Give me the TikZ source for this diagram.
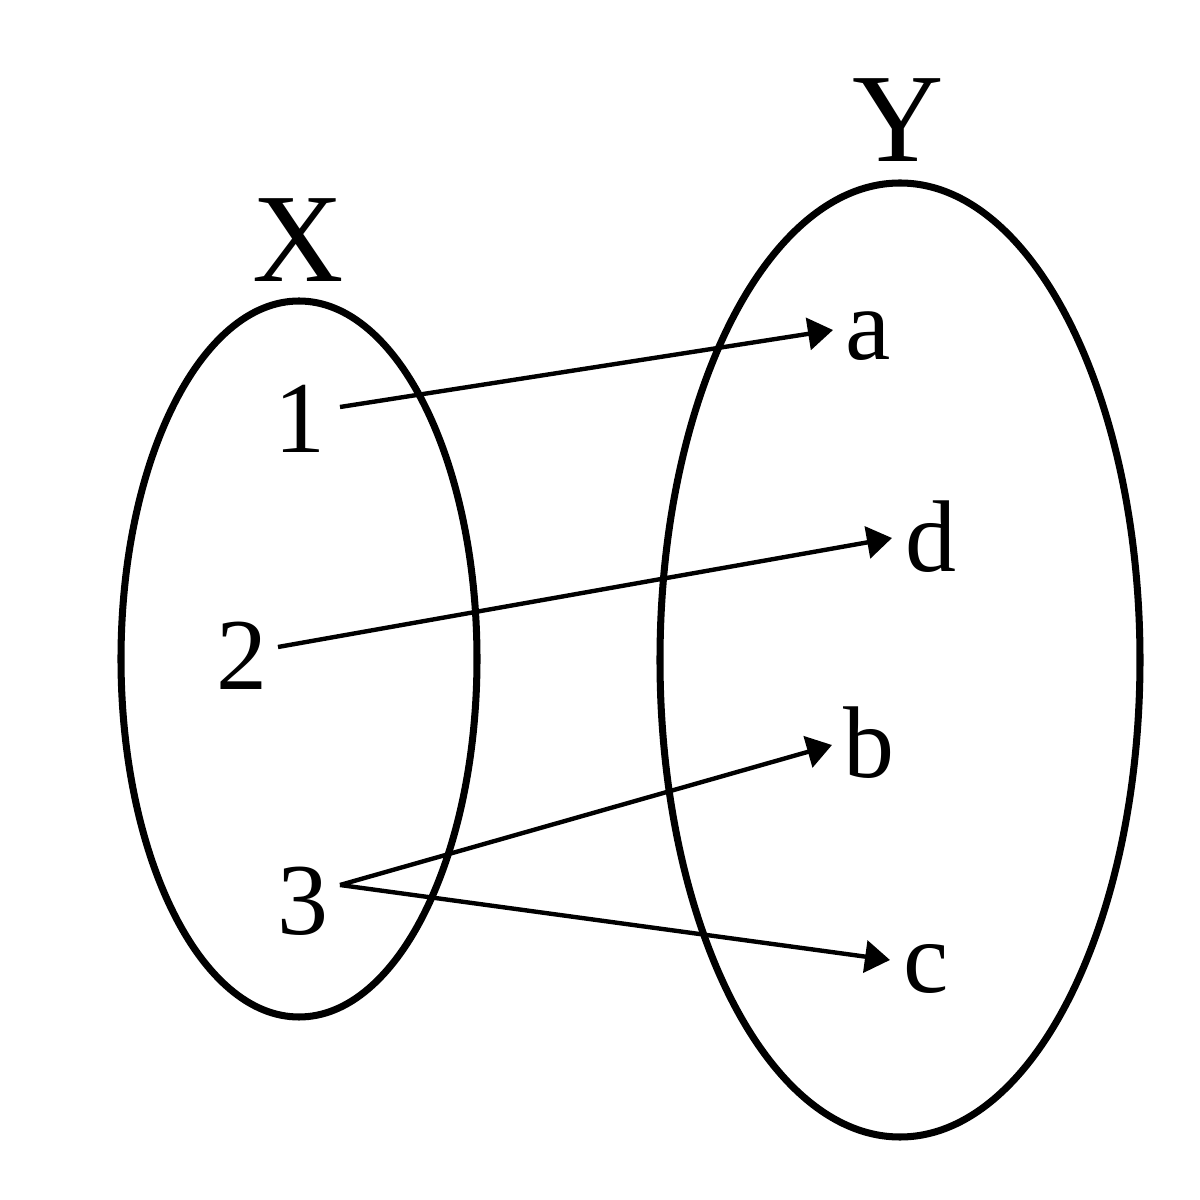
\documentclass[tikz,border=0pt]{standalone}
\usepackage{fontspec}
\setmainfont{Liberation Serif}
\usetikzlibrary{arrows.meta}
\begin{document}
\begin{tikzpicture}[
  setring/.style={draw=black, line width=2pt},
  elem/.style={inner sep=0pt, font=\fontsize{29}{34}\selectfont},
  setname/.style={inner sep=0pt, anchor=base, font=\fontsize{36}{42}\selectfont},
  maparrow/.style={line width=1.25pt, -{Triangle[length=2.5mm,width=3.2mm]}}
]
\useasboundingbox (0,0) rectangle (12,12);
% sets
\draw[setring] (2.99,5.41) ellipse [x radius=1.78, y radius=3.58];
\draw[setring] (9.00,5.40) ellipse [x radius=2.40, y radius=4.77];
\node[setname] (X) at (2.98,9.18) {X};
\node[setname] (Y) at (8.98,10.38) {Y};
% elements of X
\node[elem, anchor=base] (n1) at (3.00,7.47) {1};
\node[elem, anchor=base] (n2) at (2.42,5.10) {2};
\node[elem, anchor=base] (n3) at (3.03,2.65) {3};
% elements of Y
\node[elem, anchor=base west] (a) at (8.45,8.40) {a};
\node[elem, anchor=base west] (d) at (9.05,6.28) {d};
\node[elem, anchor=base west] (b) at (8.43,4.22) {b};
\node[elem, anchor=base west] (c) at (9.03,2.07) {c};
% arrow ends
\coordinate (s1) at (3.40,7.93);
\coordinate (s2) at (2.78,5.53);
\coordinate (s3) at (3.40,3.15);
\coordinate (ta) at (8.33,8.70);
\coordinate (td) at (8.92,6.62);
\coordinate (tb) at (8.32,4.55);
\coordinate (tc) at (8.90,2.40);
\draw[maparrow] (s1) -- (ta);
\draw[maparrow] (s2) -- (td);
\draw[maparrow] (s3) -- (tb);
\draw[maparrow] (s3) -- (tc);
\end{tikzpicture}
\end{document}
